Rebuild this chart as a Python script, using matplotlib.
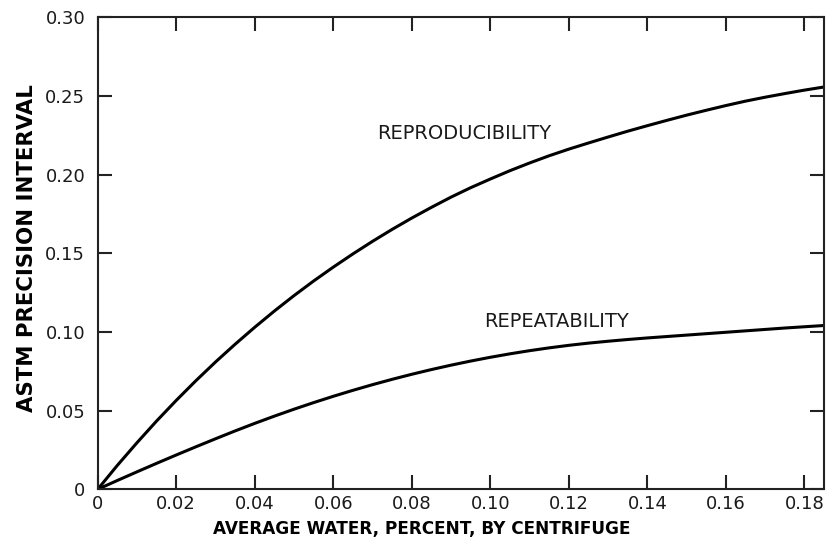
import matplotlib
matplotlib.use("Agg")
import matplotlib.pyplot as plt

# values (every 0.005 % water)
water_pct = [0, 0.005, 0.010, 0.015, 0.020, 0.025, 0.030, 0.035, 0.040, 0.045,
             0.050, 0.055, 0.060, 0.065, 0.070, 0.075, 0.080, 0.085, 0.090, 0.095,
             0.100, 0.105, 0.110, 0.115, 0.120, 0.125, 0.130, 0.135, 0.140, 0.145,
             0.150, 0.155, 0.160, 0.165, 0.170, 0.175, 0.180, 0.185]
reproducibility = [0, 0.0152, 0.0296, 0.0434, 0.0565, 0.0690, 0.0809, 0.0922, 0.1030, 0.1133,
                   0.1231, 0.1324, 0.1412, 0.1496, 0.1576, 0.1652, 0.1724, 0.1792, 0.1857, 0.1917,
                   0.1972, 0.2025, 0.2074, 0.2120, 0.2162, 0.2201, 0.2239, 0.2276, 0.2311, 0.2345,
                   0.2378, 0.2409, 0.2439, 0.2467, 0.2492, 0.2515, 0.2537, 0.2557]
repeatability = [0, 0.0056, 0.0111, 0.0165, 0.0218, 0.0270, 0.0321, 0.0371, 0.0419, 0.0465,
                 0.0509, 0.0551, 0.0591, 0.0629, 0.0665, 0.0699, 0.0731, 0.0761, 0.0789, 0.0815,
                 0.0839, 0.0861, 0.0881, 0.0899, 0.0915, 0.0929, 0.0941, 0.0952, 0.0962, 0.0971,
                 0.0980, 0.0989, 0.0998, 0.1007, 0.1016, 0.1025, 0.1033, 0.1041]

x_ticks = [0, 0.02, 0.04, 0.06, 0.08, 0.10, 0.12, 0.14, 0.16, 0.18]
x_labels = ["0", "0.02", "0.04", "0.06", "0.08", "0.10", "0.12", "0.14", "0.16", "0.18"]
y_ticks = [0, 0.05, 0.10, 0.15, 0.20, 0.25, 0.30]
y_labels = ["0", "0.05", "0.10", "0.15", "0.20", "0.25", "0.30"]

plt.rcParams['font.family'] = ['DejaVu Sans']

fig = plt.figure(figsize=(8.26, 5.54), dpi=100)
ax = fig.add_axes([0.1183, 0.1168, 0.8793, 0.852])

ax.plot(water_pct, reproducibility, color='black', lw=2.2, solid_capstyle='butt')
ax.plot(water_pct, repeatability, color='black', lw=2.2, solid_capstyle='butt')

ax.text(0.0933, 0.226, "REPRODUCIBILITY", fontsize=14, ha='center', va='center', color='#1a1a1a')
ax.text(0.1168, 0.1065, "REPEATABILITY", fontsize=14, ha='center', va='center', color='#1a1a1a')

ax.set_xlim(0, 0.185)
ax.set_ylim(0, 0.30)
ax.set_xticks(x_ticks)
ax.set_xticklabels(x_labels)
ax.set_yticks(y_ticks)
ax.set_yticklabels(y_labels)
ax.tick_params(axis='both', direction='in', length=10, width=1.5, labelsize=13,
               top=True, right=True, colors='#222222', labelcolor='#1a1a1a')
ax.tick_params(axis='x', pad=4)
ax.tick_params(axis='y', pad=9)
for sp in ax.spines.values():
    sp.set_linewidth(1.5)
    sp.set_color('#222222')

# the x title sits left of the axes centre in the original
ax.set_xlabel("AVERAGE WATER, PERCENT, BY CENTRIFUGE", fontsize=12.2, fontweight='bold', labelpad=4)
ax.xaxis.set_label_coords(0.446, -0.065)
ax.set_ylabel("ASTM PRECISION INTERVAL", fontsize=15.3, fontweight='bold', labelpad=6)
ax.yaxis.set_label_coords(-0.083, 0.512)

fig.savefig("out.png", dpi=100)
